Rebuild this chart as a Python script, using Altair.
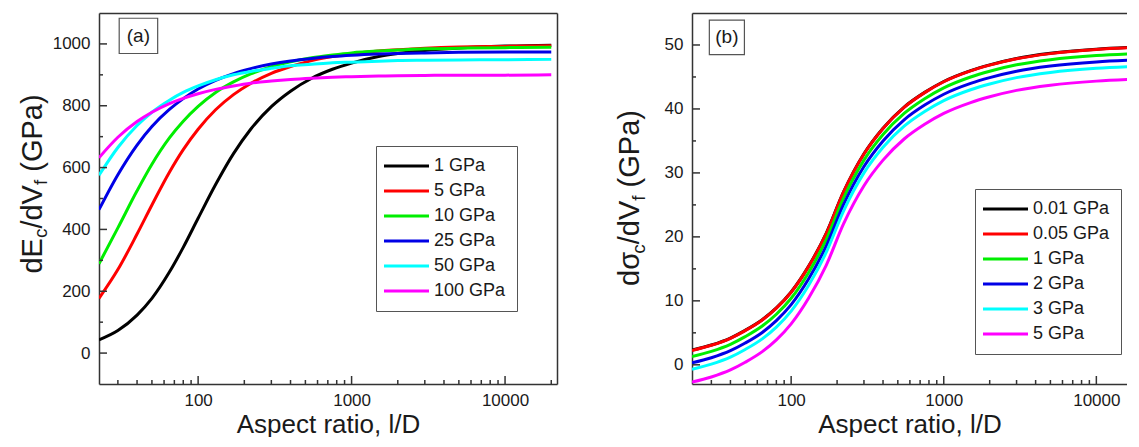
import altair as alt
import pandas as pd

FONT = "Liberation Sans"
FRAME = "#333333"
TXT = "#1a1a1a"
COLORS = ["#000000", "#ff0000", "#00ee00", "#0000e6", "#00ffff", "#ff00ff"]

# ---------------- panel (a) data ----------------
aspect_a = [22.6, 30, 40, 50, 65, 80, 100, 130, 170, 220, 300, 400, 550, 750,
            1000, 1500, 2000, 3000, 5000, 10000, 20000]
series_a = ["1 GPa", "5 GPa", "10 GPa", "25 GPa", "50 GPa", "100 GPa"]
em_1 = [43, 73, 123, 177, 262, 342, 436, 545, 645, 724, 797, 847, 889, 918, 938, 959, 969, 979, 987, 993, 996]
em_5 = [177, 270, 385, 479, 585, 658, 724, 787, 836, 872, 905, 927, 946, 959, 968, 977, 981, 986, 990, 992, 994]
em_10 = [289, 405, 525, 611, 696, 750, 798, 843, 877, 903, 926, 942, 955, 964, 971, 977, 980, 984, 986, 988, 989]
em_25 = [464, 577, 673, 733, 788, 823, 854, 882, 904, 920, 935, 945, 953, 959, 963, 967, 969, 971, 973, 974, 974]
em_50 = [575, 665, 736, 779, 818, 843, 864, 884, 900, 911, 921, 929, 934, 939, 941, 944, 946, 947, 948, 949, 950]
em_100 = [632, 698, 749, 779, 807, 824, 839, 853, 864, 873, 880, 885, 889, 892, 894, 896, 897, 898, 899, 899, 900]

# ---------------- panel (b) data ----------------
aspect_b = [22.4, 30, 40, 50, 65, 80, 100, 130, 170, 220, 300, 400, 550, 750,
            1000, 1500, 2000, 3000, 5000, 10000, 20000]
series_b = ["0.01 GPa", "0.05 GPa", "1 GPa", "2 GPa", "3 GPa", "5 GPa"]
sm_001 = [2.29, 3.09, 4.19, 5.39, 7.09, 8.89, 11.39, 15.39, 20.59, 26.99, 32.99, 36.99, 40.29, 42.59, 44.29, 45.99, 46.89, 47.89, 48.69, 49.34, 49.69]
sm_005 = [2.25, 3.05, 4.15, 5.35, 7.05, 8.85, 11.35, 15.35, 20.55, 26.95, 32.95, 36.95, 40.25, 42.55, 44.25, 45.95, 46.85, 47.85, 48.65, 49.30, 49.65]
sm_1 = [1.30, 2.10, 3.20, 4.40, 6.10, 7.90, 10.40, 14.40, 19.60, 26.00, 32.00, 36.00, 39.30, 41.60, 43.30, 45.00, 45.90, 46.90, 47.70, 48.35, 48.70]
sm_2 = [0.30, 1.10, 2.20, 3.40, 5.10, 6.90, 9.40, 13.40, 18.60, 25.00, 31.00, 35.00, 38.30, 40.60, 42.30, 44.00, 44.90, 45.90, 46.70, 47.35, 47.70]
sm_3 = [-0.70, 0.10, 1.20, 2.40, 4.10, 5.90, 8.40, 12.40, 17.60, 24.00, 30.00, 34.00, 37.30, 39.60, 41.30, 43.00, 43.90, 44.90, 45.70, 46.35, 46.70]
sm_5 = [-2.70, -1.90, -0.80, 0.40, 2.10, 3.90, 6.40, 10.40, 15.60, 22.00, 28.00, 32.00, 35.30, 37.60, 39.30, 41.00, 41.90, 42.90, 43.70, 44.35, 44.70]

X_MAJOR = [100, 1000, 10000]
X_MINOR = [30, 40, 50, 60, 70, 80, 90, 200, 300, 400, 500, 600, 700, 800, 900,
           2000, 3000, 4000, 5000, 6000, 7000, 8000, 9000, 20000]


def long_df(aspect, names, cols):
    rows = []
    for name, vals in zip(names, cols):
        for x, v in zip(aspect, vals):
            rows.append({"aspect": x, "value": v, "series": name})
    return pd.DataFrame(rows)


def panel(df, names, xdom, ydom, W, H, y_major, y_minor, leg_xy,
          box, lab, title_parts, right_frame):
    xs = alt.Scale(type="log", domain=xdom, nice=False)
    ys = alt.Scale(domain=ydom, nice=False, zero=False)
    x_minor = [v for v in X_MINOR if xdom[0] < v < xdom[1]]

    lines = alt.Chart(df).mark_line(strokeWidth=3, clip=True, interpolate="monotone").encode(
        x=alt.X("aspect:Q", scale=xs, axis=alt.Axis(
            orient="bottom", values=X_MAJOR, format="d", ticks=False, grid=False,
            labelPadding=8, labelFlush=False, labelFont=FONT, labelFontSize=17, labelColor=TXT,
            domainColor=FRAME, domainWidth=1.5,
            title="Aspect ratio, l/D", titleFont=FONT, titleFontSize=26,
            titleFontWeight="normal", titleColor=TXT, titlePadding=3)),
        y=alt.Y("value:Q", scale=ys, axis=alt.Axis(
            orient="left", values=y_major, format="d", ticks=False, grid=False,
            labelPadding=9, labelFont=FONT, labelFontSize=17, labelColor=TXT,
            domainColor=FRAME, domainWidth=1.5, title=None)),
        color=alt.Color("series:N", scale=alt.Scale(domain=names, range=COLORS),
                        sort=names,
                        legend=alt.Legend(
                            orient="none", legendX=leg_xy[0], legendY=leg_xy[1],
                            title=None, direction="vertical",
                            symbolType="M-1.6,0H4.4", symbolSize=225, symbolStrokeWidth=3,
                            labelFont=FONT, labelFontSize=18, labelColor=TXT,
                            labelOffset=29, labelLimit=300,
                            padding=11, rowPadding=7,
                            strokeColor="#555555", fillColor="white", cornerRadius=0)),
    )

    # inward ticks (Origin style), drawn in data space through the scales
    y_per_px = (ydom[1] - ydom[0]) / H
    x_fac_px = (xdom[1] / xdom[0]) ** (1.0 / W)
    tick_style = dict(color=FRAME, strokeWidth=1.5)

    def xticks(vals, length):
        t = pd.DataFrame({"v": vals, "a": [ydom[0]] * len(vals),
                          "b": [ydom[0] + length * y_per_px] * len(vals)})
        return alt.Chart(t).mark_rule(**tick_style).encode(
            x=alt.X("v:Q", scale=xs, axis=None),
            y=alt.Y("a:Q", scale=ys, axis=None), y2="b:Q")

    def yticks(vals, length):
        t = pd.DataFrame({"v": vals, "a": [xdom[0]] * len(vals),
                          "b": [xdom[0] * x_fac_px ** length] * len(vals)})
        return alt.Chart(t).mark_rule(**tick_style).encode(
            y=alt.Y("v:Q", scale=ys, axis=None),
            x=alt.X("a:Q", scale=xs, axis=None), x2="b:Q")

    ticks = [xticks(X_MAJOR, 8), xticks(x_minor, 4), yticks(y_major, 8), yticks(y_minor, 4)]

    if right_frame:
        yframe = alt.Y("y:Q", scale=ys, axis=alt.Axis(
            orient="right", ticks=False, labels=False, domain=True, domainColor=FRAME,
            domainWidth=1.5, grid=False, title=None))
    else:
        yframe = alt.Y("y:Q", scale=ys, axis=None)
    frame = alt.Chart(lab).mark_point(opacity=0, size=1).encode(
        x=alt.X("x:Q", scale=xs, axis=alt.Axis(
            orient="top", ticks=False, labels=False, domain=True, domainColor=FRAME,
            domainWidth=1.5, grid=False, title=None)),
        y=yframe,
    )

    box_layer = alt.Chart(box).mark_rect(fill="white", stroke="#555555", strokeWidth=1.2).encode(
        x=alt.X("x0:Q", scale=xs, axis=None), x2="x1:Q",
        y=alt.Y("y0:Q", scale=ys, axis=None), y2="y1:Q")
    lab_layer = alt.Chart(lab).mark_text(font=FONT, fontSize=19, color=TXT).encode(
        x=alt.X("x:Q", scale=xs, axis=None), y=alt.Y("y:Q", scale=ys, axis=None), text="t:N")

    one = pd.DataFrame({"k": [0]})
    title_layers = []
    for t, px, py, fs in title_parts:
        title_layers.append(
            alt.Chart(one).mark_text(angle=270, align="left", baseline="alphabetic",
                                     font=FONT, fontSize=fs, color=TXT).encode(
                x=alt.value(px), y=alt.value(py), text=alt.value(t)))

    return alt.layer(lines, *ticks, frame, box_layer, lab_layer, *title_layers).resolve_axis(
        x="independent", y="independent").properties(width=W, height=H)


df_a = long_df(aspect_a, series_a, [em_1, em_5, em_10, em_25, em_50, em_100])
df_b = long_df(aspect_b, series_b, [sm_001, sm_005, sm_1, sm_2, sm_3, sm_5])

box_a = pd.DataFrame({"x0": [30.6], "x1": [54.5], "y0": [969], "y1": [1083]})
lab_a = pd.DataFrame({"x": [40.8], "y": [1026], "t": ["(a)"]})
box_b = pd.DataFrame({"x0": [29.1], "x1": [49.4], "y0": [48.5], "y1": [53.9]})
lab_b = pd.DataFrame({"x": [37.9], "y": [51.2], "t": ["(b)"]})

title_a = [("dE", -57, 260.6, 29), ("c", -52, 225.1, 19), ("/dV", -57, 215.6, 29),
           ("f", -52, 172.1, 19), ("(GPa)", -57, 158.7, 29)]
title_b = [("d\u03c3", -53, 272.9, 29), ("c", -47, 240.8, 19), ("/dV", -53, 231.3, 29),
           ("f", -47, 187.8, 19), ("(GPa)", -53, 174.4, 29)]

pa = panel(df_a, series_a, [22.6, 21800], [-100, 1100], 458, 371,
           [0, 200, 400, 600, 800, 1000], [100, 300, 500, 700, 900],
           (277, 133), box_a, lab_a, title_a, True)
pb = panel(df_b, series_b, [22.4, 15880], [-3, 55], 435, 371,
           [0, 10, 20, 30, 40, 50], [5, 15, 25, 35, 45],
           (283, 176), box_b, lab_b, title_b, False)

chart = alt.hconcat(pa, pb, spacing=59).resolve_scale(
    x="independent", y="independent", color="independent"
).properties(
    padding={"left": 10, "top": 5, "right": 0, "bottom": 0}
).configure_view(stroke=None).configure_axis(grid=False)

chart.save("out.html", embed_options={"renderer": "svg", "actions": False})
